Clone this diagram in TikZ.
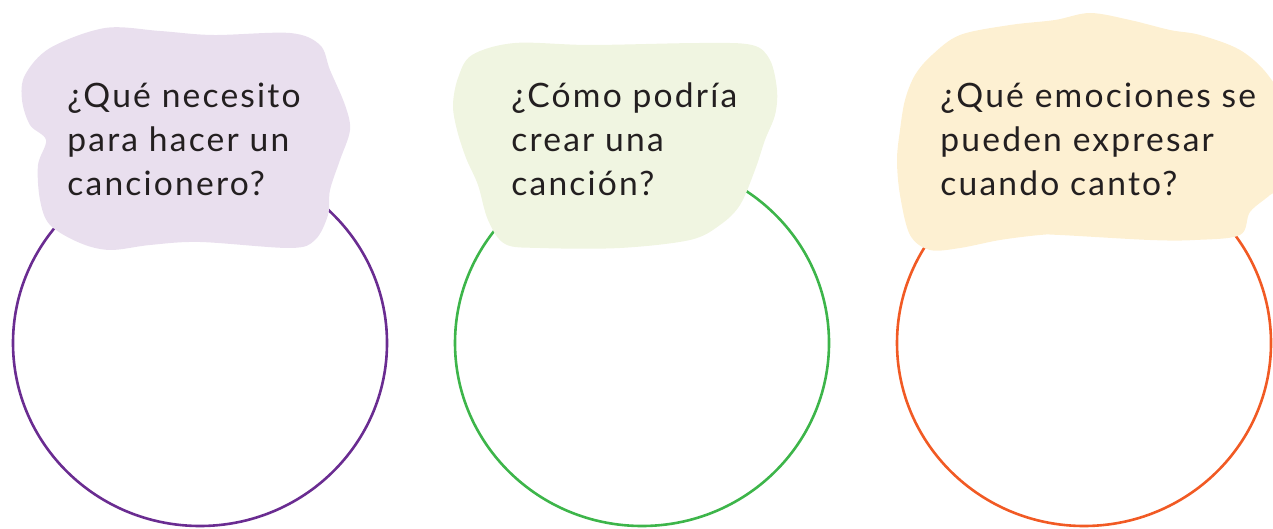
\documentclass[tikz,border=0pt]{standalone}
\usepackage{fontspec}
\setmainfont{Lato}[LetterSpace=6.5]
\definecolor{purpfill}{HTML}{E9DFEE}
\definecolor{greenfill}{HTML}{F0F5E1}
\definecolor{orangefill}{HTML}{FDF0D2}
\definecolor{purpline}{HTML}{6A2C91}
\definecolor{greenline}{HTML}{3DB54A}
\definecolor{orangeline}{HTML}{F15A24}
\definecolor{ink}{HTML}{231F20}
\tikzset{
  ring/.style={line width=1.3pt},
  blob/.style={draw=none},
  question/.style={anchor=base west, align=left, inner sep=0pt, text=ink,
    font=\fontsize{16.8}{22}\selectfont}
}
\begin{document}
\begin{tikzpicture}[x=0.5pt,y=-0.5pt]
\useasboundingbox (0,0) rectangle (1273,529);
\clip (0,0) rectangle (1273,529);
% rings
\draw[ring, purpline] (200,343) ellipse (187 and 183);
\draw[ring, greenline] (642,343) ellipse (187 and 183);
\draw[ring, orangeline] (1084,343) ellipse (187 and 183);
% blobs
\fill[purpfill, blob] plot[smooth cycle, tension=0.55] coordinates {
 (50,48) (105,28) (160,31) (213,35) (290,33) (320,45) (330,70) (345,105)
 (350,130) (340,160) (330,190) (328,215) (315,240) (290,248) (200,242)
 (150,245) (110,250) (80,243) (50,225) (40,200) (38,165) (46,140)
 (30,125) (22,100) (25,75)};
\fill[greenfill, blob] plot[smooth cycle, tension=0.55] coordinates {
 (472,55) (515,43) (590,45) (700,43) (752,45) (770,60) (777,90) (775,115)
 (765,140) (755,170) (740,205) (720,225) (690,240) (620,248) (540,248)
 (505,244) (488,220) (478,185) (466,158) (457,130) (453,105) (458,78)};
\fill[orangefill, blob] plot[smooth cycle, tension=0.55] coordinates {
 (932,55) (960,35) (1010,25) (1055,20) (1090,13) (1130,20) (1170,30)
 (1200,35) (1240,50) (1268,75) (1285,110) (1285,180) (1270,195) (1250,212)
 (1240,235) (1195,240) (1150,240) (1060,235) (1040,235) (1000,240)
 (960,248) (930,250) (910,235) (900,195) (897,160) (900,130) (905,100) (915,75)};
% texts (base anchor = baseline of the last line)
\node[question] (q1) at (67,196) {¿Qué necesito\\para hacer un\\cancionero?};
\node[question] (q2) at (511,196) {¿Cómo podría\\crear una\\canción?};
\node[question] (q3) at (940,196) {¿Qué emociones se\\pueden expresar\\cuando canto?};
\end{tikzpicture}
\end{document}
